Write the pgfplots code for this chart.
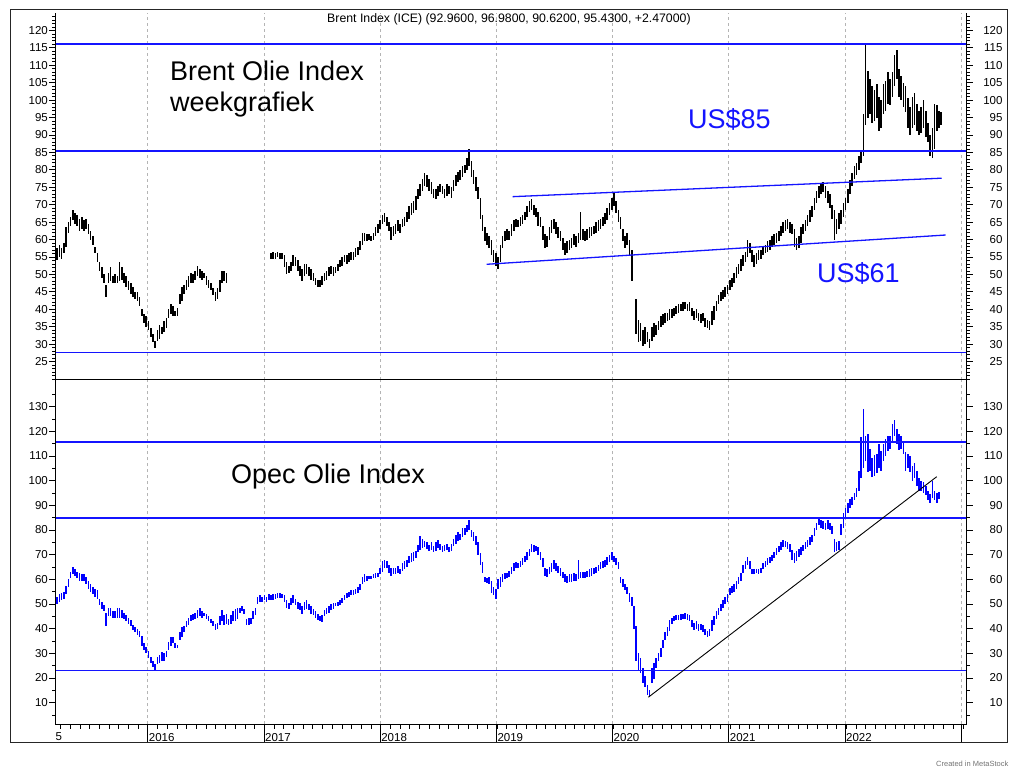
\documentclass[border=0pt]{standalone}
\usepackage{fontspec}
\setmainfont{Liberation Sans}
\usepackage{pgfplots}
\usepackage{pgfplotstable}
\pgfplotsset{compat=1.18}
\definecolor{lineblue}{RGB}{20,20,255}
\definecolor{opecblue}{RGB}{0,0,255}
\definecolor{gridgray}{RGB}{180,180,180}

\pgfplotstableread{
w lo hi
0 53.5 56.5
1 54 57.5
2 55 58.5
3 54.5 57.5
4 56 59
5 58 63.5
6 62 65
7 64 66.5
8 65.5 68.5
9 64.5 67.5
10 64 67
11 62.5 66
12 63 66.5
13 62.5 65.5
14 63 66
15 61.5 64.5
16 60 62.5
17 58.5 61
18 56 58
19 53.5 56
20 51 53.5
21 49 52
22 47.5 50
23 43.5 47
24 47.5 50.5
25 48 52
26 47.5 49.5
27 47.5 50
28 47.5 49.5
29 48 53.5
30 48.5 52
31 47.5 50.5
32 46.5 49.5
33 45.5 48
34 44.5 47.5
35 43.5 46.5
36 43 45
37 42.5 45
38 41 43.5
39 38 40
40 36 38.5
41 35 38
42 34 36.5
43 32 34.5
44 30.5 33
45 29 31
46 31 34
47 31.5 35.5
48 33 35
49 33.5 36.5
50 34.5 37.5
51 37.5 40
52 38.5 41.5
53 38 41
54 38 39.5
55 38 40.5
56 41.5 44.5
57 42.5 46.5
58 44.5 47
59 45.5 48.5
60 46.5 49.5
61 47.5 50.5
62 47.5 50
63 48.5 51
64 49.5 52.5
65 49 51.5
66 48.5 51
67 49 50.5
68 47 49.5
69 46 48.5
70 45.5 47.5
71 44 46
72 42.5 45
73 43 46
74 45 48.5
75 47.5 51
76 48 51
77 47.5 50.5
97 54.5 56
98 54.5 56.5
99 54.5 56
100 55 56.5
101 54.5 56
102 54.5 56
103 52 55.5
104 50 53.5
105 50.5 52.5
106 51 53.5
107 52.5 55.5
108 52.5 55
109 51 54
110 49.5 52.5
111 48 51.5
112 49.5 53
113 50 53
114 49.5 52
115 48.5 51.5
116 48 50.5
117 47 49
118 46.5 48.5
119 46.5 48.5
120 47 49.5
121 48 50.5
122 48.5 51
123 49.5 52
124 50 52.5
125 49.5 52
126 50.5 52
127 51 53
128 52 54
129 52.5 55
130 53.5 55.5
131 53 55.5
132 53.5 56
133 54 56.5
134 54 56.5
135 55 57.5
136 55.5 58
137 57 59.5
138 58.5 62
139 59.5 62
140 59.5 61.5
141 60 61.5
142 59.5 61
143 60 62
144 61 63.5
145 62 64.5
146 63 65.5
147 64.5 67
148 65 67.5
149 64 66.5
150 62.5 65
151 60 63.5
152 61 64
153 61.5 64.5
154 62.5 65.5
155 62 64.5
156 63.5 66
157 64 66.5
158 65 68
159 66 69.5
160 67 70.5
161 67.5 71
162 68.5 72.5
163 71.5 74.5
164 72.5 76
165 74 77.5
166 75.5 79
167 75 78.5
168 74 77.5
169 73 76.5
170 72 74.5
171 71.5 74.5
172 72.5 75.5
173 73.5 76
174 73 75.5
175 72 74.5
176 72.5 76
177 73 75.5
178 72 75
179 74 77
180 75.5 78.5
181 76.5 79.5
182 77 80
183 78 81
184 79 81.5
185 80 83.5
186 81 86
187 78 82.5
188 76 80
189 74 78
190 71.5 75
191 66 72
192 62.5 67
193 59.5 63.5
194 58.5 62
195 57.5 61
196 55.5 60
197 53.5 57
198 52.5 56
199 51.5 55
200 53.5 58.5
201 57.5 61
202 59.5 62.5
203 60 63
204 60 62.5
205 61 64.5
206 62.5 65.5
207 63.5 66
208 63.5 65.5
209 64 66.5
210 64.5 67
211 65.5 68
212 66.5 69.5
213 68 71
214 68.5 71.5
215 67 70
216 66.5 69
217 64 68
218 63.5 66.5
219 60 64
220 57.5 61.5
221 58 61
222 60 63.5
223 62 65.5
224 63 66
225 61.5 65
226 60.5 63.5
227 59.5 62.5
228 57 60.5
229 55.5 59
230 56 59.5
231 57 60
232 57.5 60.5
233 58.5 61.5
234 58 61
235 59 62
236 60 68
237 60 63
238 59.5 62.5
239 60 63
240 60.5 63.5
241 61 63.5
242 61.5 64
243 62 65
244 62.5 65.5
245 63 66
246 64 66.5
247 64.5 67.5
248 65.5 69
249 67 70.5
250 68.5 72
251 69.5 73.5
252 67.5 71
253 65 68.5
254 63 66.5
255 59.5 63
256 57.5 61
257 58.5 62
258 55.5 60
259 48 57
261 33 43
262 30.5 37
263 31 36
264 29.5 34
265 30 35
266 30.5 33.5
267 29 31.5
268 31 35
269 32 36
270 32.5 35.5
271 34 36.5
272 35 38
273 35.5 38.5
274 36 39
275 36.5 39
276 37 40
277 37.5 40
278 38 40.5
279 38.5 41
280 39 41.5
281 39.5 41.5
282 39.5 42
283 40 42
284 39.5 41.5
285 39.5 42
286 38 40.5
287 37 39.5
288 37.5 40
289 36.5 39
290 36 38.5
291 36.5 39
292 35 37.5
293 34.5 37
294 34 36.5
295 35.5 39.5
296 37 41
297 39.5 42.5
298 41.5 44
299 42.5 45
300 43 45.5
301 43.5 46.5
302 44.5 47
303 45.5 48.5
304 46.5 49
305 47.5 50.5
306 49 52
307 50 53
308 51 54.5
309 52.5 55.5
310 53.5 56.5
311 55 60
312 56 59
313 53.5 57
314 52 55.5
315 53 56
316 54 57
317 54.5 57
318 55.5 58
319 56 58.5
320 56.5 59.5
321 57 60
322 58 61
323 58.5 61.5
324 59 62
325 59.5 62.5
326 61 64
327 62 65
328 62.5 65.5
329 63 66
330 62 65
331 61.5 64.5
332 58 63
333 57 60.5
334 57.5 61
335 59 63.5
336 61.5 64.5
337 62.5 65.5
338 64 67
339 65 68.5
340 66.5 69.5
341 68.5 72
342 70.5 74
343 72 75.5
344 73 76
345 73.5 76.5
346 72 75.5
347 70.5 74
348 69 73
349 66 70
350 60 68.5
351 61.5 66
352 63 67.5
353 64.5 68.5
354 66.5 70.5
355 68.5 72
356 70.5 74.5
357 73 77
358 75.5 79
359 77.5 81
360 78.5 82
361 80 84
362 82 85.5
363 84 96
364 93 116.5
365 95 108.5
366 96 106
367 93.5 104
368 94 103
369 95 104.5
370 91 101
371 92 100
372 96 104.5
373 97 105.5
374 99 108
375 98.5 106
376 101 108
377 104 113
378 106 114.5
379 101 109
380 100 107
381 98 105
382 96.5 104
383 92 100.5
384 90 98
385 92 101
386 93 102
387 91 99
388 90 97
389 90.5 98
390 92 100
391 89.5 97
392 88 93.5
393 84 90
394 83.5 92
395 86 99
396 91 98.5
397 92 97
398 93 96.5
}\brent

\pgfplotstableread{
w lo hi
0 49 52
1 50 53
2 51 54
3 51.5 54.5
4 52 55
5 54 57.5
6 57 60
7 60.5 63
8 62 65
9 61.5 64
10 60.5 63
11 59.5 62.5
12 59.5 62
13 59.5 62
14 58 61
15 56 59.5
16 55 58
17 54 57
18 53 56
19 52 55.5
20 49.5 52
21 48 51
22 47 49.5
23 41 46.5
24 45 48.5
25 45 48.5
26 44.5 47
27 44.5 47
28 44.5 48.5
29 44.5 48.5
30 44.5 47.5
31 44 46.5
32 43 45.5
33 42 44.5
34 41 43.5
35 39.5 41.5
36 38.5 40.5
37 37.5 40
38 36.5 39
39 33 37
40 31.5 34
41 30 32.5
42 28 31
43 26 28.5
44 24.5 27
45 23 25.5
46 25.5 28.5
47 26 29.5
48 27 30.5
49 27 30
50 28.5 31
51 31.5 34.5
52 33 36.5
53 34 36.5
54 32 34
55 32 33.5
56 35.5 38.5
57 36.5 40.5
58 38.5 41
59 40.5 43
60 41.5 44.5
61 43 45.5
62 43.5 46
63 44 46.5
64 44.5 47.5
65 45 48.5
66 44.5 47
67 45 46.5
68 44 46
69 43 45
70 42.5 44
71 41 43
72 39.5 42
73 40 42.5
74 41.5 45
75 43 47.5
76 41.5 45.5
77 42 46
78 41.5 44
79 42 45.5
80 43 47
81 43 48
82 44 48.5
83 46.5 48.5
84 47 49
85 46 48
86 41.5 44
87 41.5 44.5
88 42 44.5
89 44 47
90 45.5 48.5
91 50 53
92 51 53.5
93 51 53
94 51.5 53.5
95 51 53
96 51.5 54
97 51.5 53.5
98 51.5 54
99 52 54
100 52.5 54.5
101 52.5 54.5
102 52.5 54
103 51 53.5
104 48.5 51.5
105 48 50.5
106 49.5 52.5
107 50.5 53.5
108 49.5 52
109 48 51
110 47.5 50.5
111 46 49
112 47.5 51
113 48 51.5
114 47.5 50
115 46 49
116 45.5 48
117 44.5 47
118 43.5 46
119 43 45
120 42.7 45.5
121 45 47.5
122 46 48.5
123 46.5 49
124 47.5 50
125 48 50.5
126 49 50.5
127 49 51
128 49.5 51.5
129 50.5 52.5
130 51.5 53.5
131 52.5 54.5
132 53 55
133 53.5 55.5
134 53.5 55.5
135 54 56
136 54.5 57
137 55.5 58
138 58 61
139 59 62
140 59.5 61.5
141 60 61.5
142 60 61.5
143 60.5 62
144 60.5 62.5
145 61 62.5
146 62 64.5
147 63 67.5
148 64.5 68
149 64.5 67.5
150 62.5 66
151 61.5 64.5
152 62 64.5
153 62 64.5
154 62.5 65.5
155 62 64
156 63.5 66.5
157 64 67.5
158 65 68
159 66.5 69.5
160 67 70.5
161 67.5 71
162 68.5 71.5
163 71 74
164 72 77.5
165 72.5 76.5
166 73 75.5
167 72.5 75
168 71.5 74
169 72 75
170 71 73.5
171 71.5 75
172 72.5 76
173 72 74.5
174 71 73.5
175 71.5 74
176 72 74.5
177 71 73
178 71.5 74.5
179 73.5 76.5
180 74.5 78
181 75.5 79
182 76 78.5
183 77 81
184 78 81
185 79 82
186 80 84
187 77 80
188 75.5 79
189 74 77.5
190 70 75
191 66 70.5
192 62.5 67
193 59 61
194 58.5 60.5
195 58 61
196 54.5 59.5
197 53.5 57
198 52 56
199 56 60
200 57 61
201 59 62
202 60 62.5
203 60.5 62.5
204 61 63.5
205 62 65
206 63.5 66.5
207 64.5 67
208 64.5 66.5
209 65 67.5
210 66 68.5
211 67 69.5
212 68 71
213 69.5 72.5
214 71 74.4
215 71 74
216 71.5 73.5
217 70 73
218 68 71
219 65 68.5
220 61.5 64.5
221 61 64
222 62 65
223 63 66.5
224 64 68
225 63.5 66.5
226 62.5 65.5
227 61.5 64.5
228 60.5 63
229 59 62
230 58.5 61.5
231 59 62
232 59 62
233 59.5 62.5
234 59.5 62
235 60 68
236 60.5 63
237 60.5 63
238 60.5 63
239 61 63.5
240 61 64
241 61.5 64.5
242 62 64.5
243 62.5 65
244 63.5 66
245 64 67
246 64.5 67.5
247 65 68
248 66 69
249 67 70
250 68 71
251 67 69.5
252 66 68.5
253 64 67
254 58.5 61
255 57 60
256 55.5 58
257 54 57
258 51 54.5
259 49 53
260 40 49
261 27 41
262 23 30
263 22 28
264 18 24
265 16.5 21
266 13 17
267 12.5 15
268 18 24
269 19.5 26
270 24 28
271 27 30
272 28.5 32
273 32 35.5
274 35.5 38.5
275 37 40.5
276 39 43.5
277 42 44.5
278 43 45
279 43.5 45.5
280 43.5 45.5
281 43.5 46
282 44 46
283 44 46.3
284 43.5 46
285 43 45.5
286 40.5 43.5
287 39.5 42.5
288 40 43
289 39 42
290 39.5 42
291 38.5 41.5
292 37.5 40
293 36.5 39
294 37 40
295 39 43.5
296 41.5 45
297 44 47
298 45.5 48.5
299 47 50
300 48.5 51.5
301 50 53
302 51 54
303 53.5 56.5
304 54.5 57.5
305 55 58
306 56 59.5
307 58 61
308 59.5 62.5
309 62.5 66
310 64 67.5
311 66 69
312 64 67.5
313 62 64
314 62 64
315 62.5 64
316 62 64
317 62.5 64.5
318 64 66.5
319 65 67.5
320 66 68.5
321 66.5 69
322 67.5 70
323 68.5 71
324 70 72.5
325 71 73.5
326 72 75
327 73 76
328 73 75.5
329 72.5 75
330 71 74.5
331 68 72
332 66.5 70.5
333 67.5 71.5
334 69 72.5
335 70 73
336 71.5 74
337 72.5 75
338 73 76
339 74 77
340 75 78
341 77.5 81
342 80 83
343 82 85
344 81 84
345 80.5 83.5
346 80 83
347 80.5 84
348 80 83
349 78.5 81.5
350 71 76.5
351 71.5 75
352 72 75.5
353 78 82.5
354 81 87
355 85 89
356 87 91
357 89 92.5
358 90 93.5
359 92 95
360 93.5 97
361 96 104
362 101 117.7
363 105 129
364 108 118
365 103.5 119
366 104 113
367 101.5 109
368 102 110.5
369 103 111
370 105 115
371 104 112
372 108 115
373 110 117
374 112 118
375 113 118
376 116 123
377 118 124.6
378 115 121
379 112.5 119
380 113 118
381 111 116
382 104 111.5
383 105 111
384 103.5 110
385 100 106
386 101 107
387 98 104
388 96 101
389 96 100
390 95 99.5
391 94 98
392 92 96
393 91 94.5
394 93 100
395 92 96
396 91 95
397 92.5 95.5
}\opec

\pgfplotsset{
  base/.style={scale only axis, anchor=south west, width=911.7pt,
    xmin=2015.202, xmax=2023.048,
    axis line style={-, black, line width=1pt},
    tick align=outside,
    tick style={black, line width=0.8pt},
    ticklabel style={font=\fontsize{11.5}{12}\selectfont},
    /pgf/number format/assume math mode=true},
  dataax/.style={base, axis y line=none, axis x line*=bottom, ytick=\empty,
    xtick={2016,2017,2018,2019,2020,2021,2022,2023},
    xmajorgrids, major grid style={gridgray, dash pattern=on 3pt off 3pt, line width=0.8pt}},
  leftax/.style={base, axis x line=none, axis y line*=left, xtick=\empty,
    major tick length=6pt, minor tick length=3pt,
    yticklabel style={inner sep=1pt}},
  rightax/.style={base, axis x line=none, axis y line*=right, xtick=\empty,
    major tick length=6pt, minor tick length=3pt,
    yticklabel style={anchor=east, inner sep=1pt, xshift=31pt}},
  hline/.style={draw=lineblue, line width=1.7pt, mark=none, forget plot},
  bars/.style={draw=none, mark=none, forget plot,
    error bars/.cd, y dir=both, y explicit, error mark=none,
    error bar style={draw=#1, solid, line width=1.6pt}},
}

\begin{document}
\begin{tikzpicture}
\useasboundingbox (0pt,0pt) rectangle (1026pt,772pt);
\draw[line width=1pt, black!85] (10pt,29.5pt) rectangle (1007.5pt,762pt);

% ---------- top panel: Brent ----------
\begin{axis}[dataax, at={(55pt,392pt)}, height=367pt, ymin=19.7, ymax=125,
  xticklabels={}, major tick length=0pt]
  \addplot[bars=black] table[x expr=2015.202+\thisrow{w}/52.18,
     y expr=(\thisrow{lo}+\thisrow{hi})/2,
     y error expr=(\thisrow{hi}-\thisrow{lo})/2] {\brent};
  \addplot[hline] coordinates {(2015.202,116.2) (2023.048,116.2)};
  \addplot[hline] coordinates {(2015.202,85.4) (2023.048,85.4)};
  \addplot[hline] coordinates {(2015.202,27.6) (2023.048,27.6)};
  \addplot[hline, line width=1.3pt] coordinates {(2019.141,72.3) (2022.833,77.6)};
  \addplot[hline, line width=1.3pt] coordinates {(2018.917,52.9) (2022.867,61.3)};
\end{axis}
\begin{axis}[leftax, at={(55pt,392pt)}, height=367pt, ymin=19.7, ymax=125,
  ytick={25,30,...,120}, minor ytick={20,21,...,124}]
\end{axis}
\begin{axis}[rightax, at={(55pt,392pt)}, height=367pt, ymin=19.7, ymax=125,
  ytick={25,30,...,120}, minor ytick={20,21,...,124}]
\end{axis}

% ---------- bottom panel: OPEC ----------
\begin{axis}[dataax, at={(55pt,47.7pt)}, height=344.3pt, ymin=1.24, ymax=140.8,
  xticklabels={2016,2017,2018,2019,2020,2021,2022,{}},
  major tick length=18pt, minor tick length=4.5pt,
  minor xtick={2015.25,2015.3333333,...,2023.0},
  xticklabel style={anchor=west, inner sep=1pt, yshift=5pt}]
  \addplot[bars=opecblue] table[x expr=2015.202+\thisrow{w}/52.18,
     y expr=(\thisrow{lo}+\thisrow{hi})/2,
     y error expr=(\thisrow{hi}-\thisrow{lo})/2] {\opec};
  \addplot[hline] coordinates {(2015.202,115.8) (2023.048,115.8)};
  \addplot[hline] coordinates {(2015.202,85.0) (2023.048,85.0)};
  \addplot[hline] coordinates {(2015.202,23.1) (2023.048,23.1)};
  \addplot[black, line width=0.9pt, mark=none] coordinates {(2020.308,12.2) (2022.790,101.6)};
\end{axis}
\begin{axis}[leftax, at={(55pt,47.7pt)}, height=344.3pt, ymin=1.24, ymax=140.8,
  ytick={10,20,...,130}, minor ytick={5,15,...,135}]
\end{axis}
\begin{axis}[rightax, at={(55pt,47.7pt)}, height=344.3pt, ymin=1.24, ymax=140.8,
  ytick={10,20,...,130}, minor ytick={5,15,...,135}]
\end{axis}

% ---------- texts ----------
\node[anchor=base west, inner sep=0] at (327pt,749.3pt) {\fontsize{12.3}{14}\selectfont Brent Index (ICE) (92.9600, 96.9800, 90.6200, 95.4300, +2.47000)};
\node[anchor=base west, inner sep=0] at (170pt,691pt) {\fontsize{27}{30}\selectfont Brent Olie Index};
\node[anchor=base west, inner sep=0] at (170pt,660.5pt) {\fontsize{27}{30}\selectfont weekgrafiek};
\node[anchor=base west, inner sep=0, text=lineblue] at (688pt,643.7pt) {\fontsize{27}{30}\selectfont US\$85};
\node[anchor=base west, inner sep=0, text=lineblue] at (817pt,489.3pt) {\fontsize{27}{30}\selectfont US\$61};
\node[anchor=base west, inner sep=0] at (231pt,288pt) {\fontsize{27}{30}\selectfont Opec Olie Index};
\node[anchor=base west, inner sep=0] at (55.5pt,32pt) {\fontsize{11.5}{12}\selectfont 5};
\node[anchor=base west, inner sep=0, text=black!55] at (936pt,6pt) {\fontsize{7.5}{8}\selectfont Created in MetaStock};
\end{tikzpicture}
\end{document}
